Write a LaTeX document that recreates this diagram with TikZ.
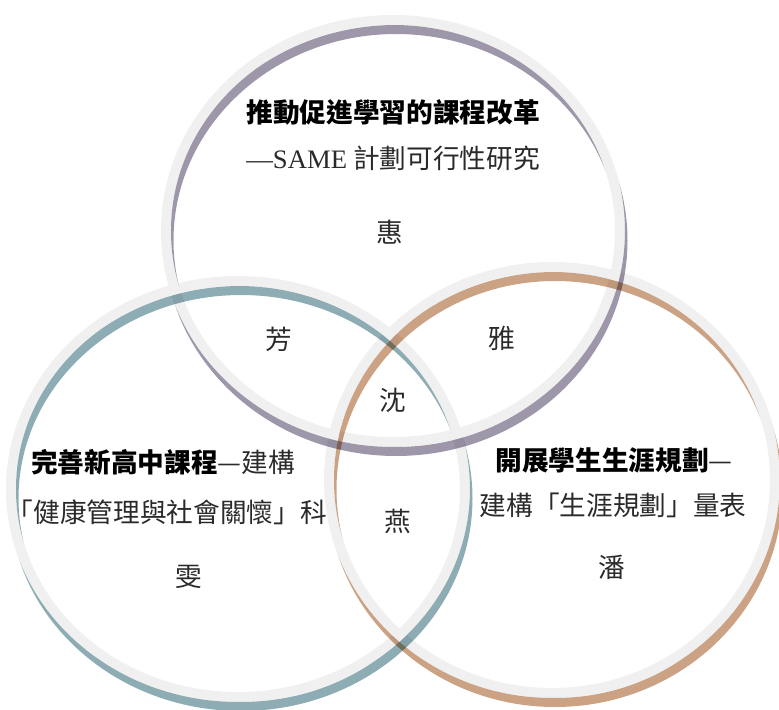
\documentclass[tikz,border=0pt]{standalone}
\usepackage{fontspec}
\setmainfont{Liberation Serif}
\newfontfamily\cjk{Noto Sans CJK TC}
\usetikzlibrary{calc}
\definecolor{RingGray}{HTML}{F0F0F0}
\definecolor{TopColor}{HTML}{9E96A9}
\definecolor{LeftColor}{HTML}{8DACB4}
\definecolor{RightColor}{HTML}{CBA283}
\definecolor{TextGray}{HTML}{2A2A2A}

\begin{document}
\begin{tikzpicture}[x=0.75pt,y=-0.75pt,
		ring/.style={draw=RingGray, line width=7.5pt},
		edge line/.style={line width=6.75pt, blend mode=multiply},
		plain text/.style={font=\cjk\fontsize{20}{24}\selectfont, text=TextGray, inner sep=0pt},
		title text/.style={plain text, text=black, font=\cjk\bfseries\fontsize{20}{24}\selectfont}]
		\useasboundingbox (0,0) rectangle (779,710);

		% centres of the three rings
		\coordinate (TopCenter) at (393,231);
		\coordinate (LeftCenter) at (238,489);
		\coordinate (RightCenter) at (552,480);

		% light gray rings
		\foreach \c/\rx/\ry in {TopCenter/227/211, LeftCenter/227/208, RightCenter/223/213}
			\draw[ring] (\c) ellipse [x radius={\rx*0.75pt}, y radius={\ry*0.75pt}];

		% coloured edges, shifted down and hidden under their own ring
		\foreach \c/\rx/\ry/\col in {TopCenter/227/211/TopColor, LeftCenter/227/208/LeftColor, RightCenter/223/213/RightColor}{
			\begin{scope}[even odd rule]
				\clip (0,0) rectangle (779,710)
					(\c) ellipse [x radius={(\rx+5)*0.75pt}, y radius={(\ry+5)*0.75pt}]
					(\c) ellipse [x radius={(\rx-5)*0.75pt}, y radius={(\ry-5)*0.75pt}];
				\draw[edge line, draw=\col] ($(\c)+(3,9.5)$) ellipse [x radius={\rx*0.75pt}, y radius={\ry*0.75pt}];
			\end{scope}
		}

		% top ring texts
		\node[title text] (TopTitle) at (393,112) {推動促進學習的課程改革};
		\node[plain text] (TopSub) at (393,158) {{\rmfamily —SAME} 計劃可行性研究};
		\node[plain text] (NameHui) at (390,232) {惠};

		% left ring texts
		\node[plain text] (LeftTitle) at (163,462) {{\bfseries\color{black}完善新高中課程}—建構};
		\node[plain text] (LeftSub) at (167,512) {「健康管理與社會關懷」科};
		\node[plain text] (NameWen) at (189,577) {雯};

		% right ring texts
		\node[plain text] (RightTitle) at (614,460) {{\bfseries\color{black}開展學生生涯規劃}—};
		\node[plain text] (RightSub) at (613,505) {建構「生涯規劃」量表};
		\node[plain text] (NamePan) at (612,567) {潘};

		% overlaps
		\node[plain text] (NameFang) at (279,339) {芳};
		\node[plain text] (NameYa) at (502,338) {雅};
		\node[plain text] (NameShen) at (393,400) {沈};
		\node[plain text] (NameYan) at (398,521) {燕};
	\end{tikzpicture}
\end{document}
